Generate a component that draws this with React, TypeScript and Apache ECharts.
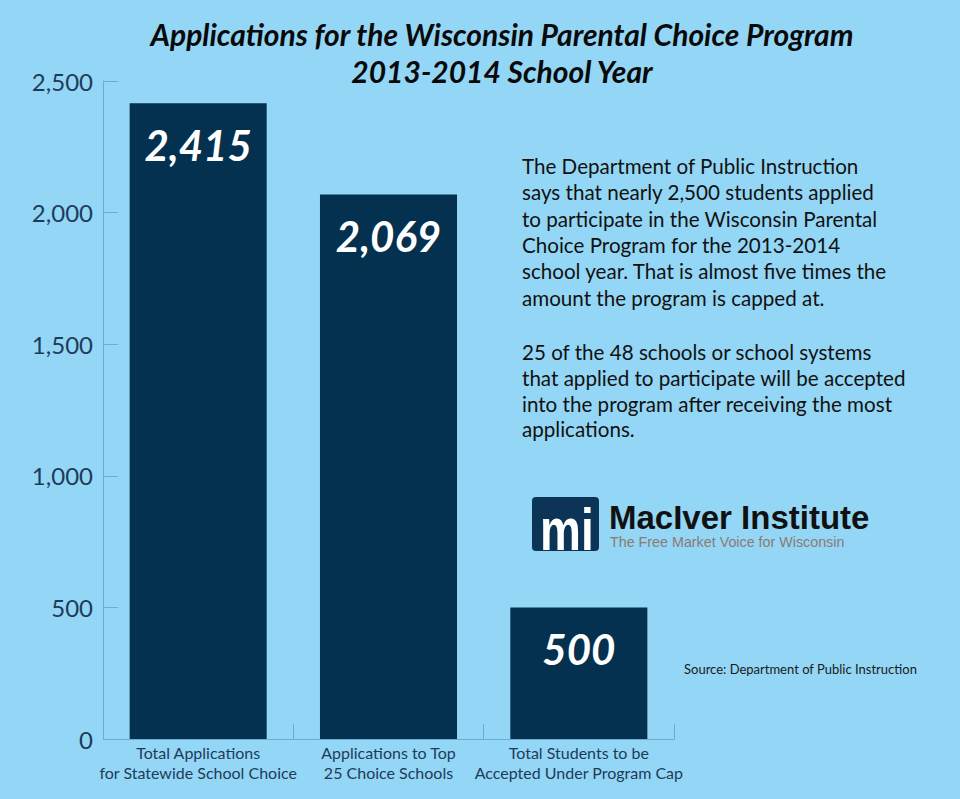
import React, { useEffect, useRef } from "react";
import * as echarts from "echarts";

const categories = [
  "Total Applications\nfor Statewide School Choice",
  "Applications to Top\n25 Choice Schools",
  "Total Students to be\nAccepted Under Program Cap",
];
const applications = [2415, 2069, 500];
const yMin = 0;
const yMax = 2500;
const yInterval = 500;

const titleLines = [
  "Applications for the Wisconsin Parental Choice Program",
  "2013-2014 School Year",
];
const paragraph1 = [
  "The Department of Public Instruction",
  "says that nearly 2,500 students applied",
  "to participate in the Wisconsin Parental",
  "Choice Program for the 2013-2014",
  "school year. That is almost five times the",
  "amount the program is capped at.",
];
const paragraph2 = [
  "25 of the 48 schools or school systems",
  "that applied to participate will be accepted",
  "into the program after receiving the most",
  "applications.",
];
const sourceText = "Source: Department of Public Instruction";
const logoName = "MacIver Institute";
const logoTagline = "The Free Market Voice for Wisconsin";

const BG = "#94d6f5";
const NAVY = "#03314f";
const AXIS = "#6eaad2";
const LABEL = "#1d3c5b";
const FONT = "Lato";

const fmt = (v: number) => v.toLocaleString("en-US");

export default function App() {
  const ref = useRef<HTMLDivElement>(null);
  useEffect(() => {
    document.body.style.margin = "0";
    document.body.style.background = BG;
    const chart = echarts.init(ref.current!, null, { renderer: "svg" });

    const graphics: any[] = [];
    titleLines.forEach((t, i) => {
      graphics.push({
        type: "text",
        x: 502,
        y: [34, 71][i],
        style: {
          text: t,
          fontFamily: FONT,
          fontSize: 30,
          fontWeight: "bold",
          fontStyle: "italic",
          fill: "#0a0a0a",
          align: "center",
          verticalAlign: "middle",
        },
      });
    });
    paragraph1.forEach((t, i) => {
      graphics.push({
        type: "text",
        x: 522,
        y: 172 - 6 + i * 26.3,
        style: { text: t, fontFamily: FONT, fontSize: 20.6, fill: "#111111", align: "left", verticalAlign: "middle" },
      });
    });
    paragraph2.forEach((t, i) => {
      graphics.push({
        type: "text",
        x: 522,
        y: 358 - 6 + i * 25.8,
        style: { text: t, fontFamily: FONT, fontSize: 20.6, fill: "#111111", align: "left", verticalAlign: "middle" },
      });
    });
    graphics.push({
      type: "rect",
      shape: { x: 532, y: 497, width: 67, height: 54, r: 4 },
      style: { fill: "#0b3457" },
    });
    graphics.push({
      type: "text",
      x: 540,
      y: 559,
      scaleY: 1.3,
      style: {
        text: "mi",
        fontFamily: "Liberation Sans",
        fontSize: 46,
        fontWeight: "bold",
        fill: "#ffffff",
        align: "left",
        verticalAlign: "bottom",
      },
    });
    graphics.push({
      type: "text",
      x: 609,
      y: 517,
      style: {
        text: logoName,
        fontFamily: "Liberation Sans",
        fontSize: 33,
        fontWeight: "bold",
        fill: "#111111",
        align: "left",
        verticalAlign: "middle",
      },
    });
    graphics.push({
      type: "text",
      x: 610,
      y: 542,
      style: {
        text: logoTagline,
        fontFamily: "Liberation Sans",
        fontSize: 14.3,
        fill: "#8a7b72",
        align: "left",
        verticalAlign: "middle",
      },
    });
    graphics.push({
      type: "text",
      x: 684,
      y: 669,
      style: { text: sourceText, fontFamily: FONT, fontSize: 13, fill: "#1a1a1a", align: "left", verticalAlign: "middle" },
    });

    chart.setOption({
      animation: false,
      backgroundColor: BG,
      grid: { left: 103, right: 286, top: 81, bottom: 60 },
      xAxis: {
        type: "category",
        data: categories,
        axisLine: { show: true, lineStyle: { color: AXIS, width: 1 } },
        axisTick: { show: true, inside: true, length: 15, lineStyle: { color: AXIS } },
        axisLabel: {
          interval: 0,
          color: LABEL,
          fontFamily: FONT,
          fontSize: 16,
          lineHeight: 20,
          margin: 3,
        },
      },
      yAxis: {
        type: "value",
        min: yMin,
        max: yMax,
        interval: yInterval,
        axisLine: { show: true, lineStyle: { color: AXIS, width: 1 } },
        axisTick: { show: true, inside: true, length: 15, lineStyle: { color: AXIS } },
        splitLine: { show: false },
        axisLabel: {
          color: LABEL,
          fontFamily: FONT,
          fontSize: 24,
          margin: 10,
          formatter: (v: number) => fmt(v),
        },
      },
      series: [
        {
          type: "bar",
          data: applications,
          barWidth: "72%",
          itemStyle: { color: NAVY },
          label: {
            show: true,
            position: "insideTop",
            distance: 21,
            color: "#ffffff",
            fontFamily: FONT,
            fontSize: 42,
            fontWeight: "bold",
            fontStyle: "italic",
            formatter: (p: any) => fmt(p.value),
          },
        },
      ],
      graphic: graphics,
    });
    return () => chart.dispose();
  }, []);
  return <div ref={ref} style={{ width: 960, height: 799 }} />;
}
